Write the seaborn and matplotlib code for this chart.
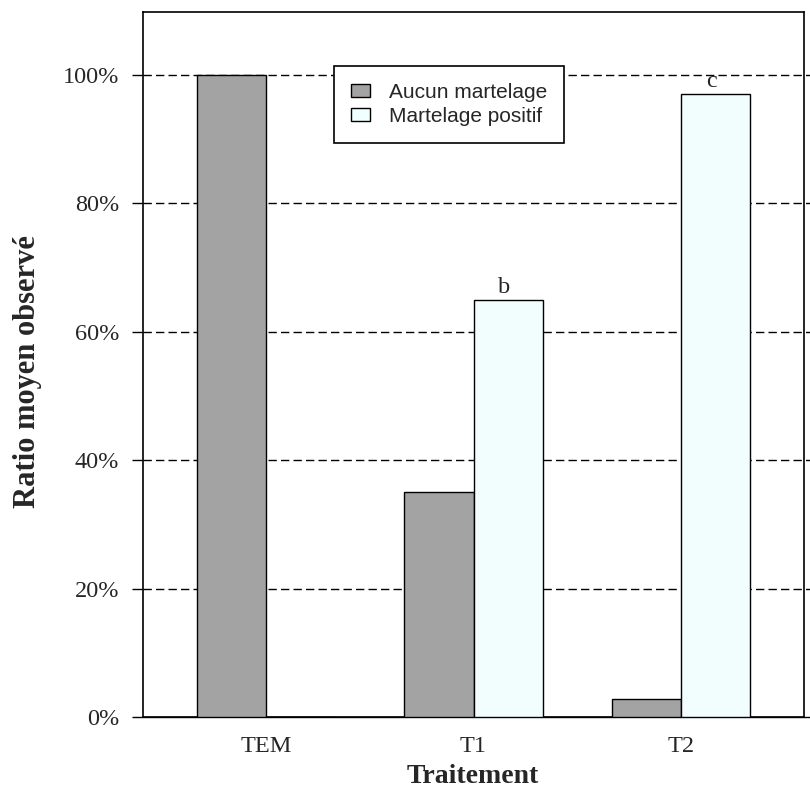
import matplotlib
matplotlib.use("Agg")
import matplotlib.pyplot as plt
from matplotlib.patches import Patch
import numpy as np
import pandas as pd
import seaborn as sns

sns.set_style("white")
plt.rcParams['font.family'] = ['Liberation Serif', 'DejaVu Serif']

# donnees
traitements = ["TEM", "T1", "T2"]
aucun = [1.00, 0.35, 0.028]
positif = [0.0, 0.65, 0.97]
series = ["Aucun martelage", "Martelage positif"]
couleurs = ["#a3a3a3", "#f0ffff"]
lettres = ["", "b", "c"]
yticks = [0, 0.2, 0.4, 0.6, 0.8, 1.0]

df = pd.DataFrame({
    "Traitement": traitements * 2,
    "Ratio": aucun + positif,
    "Serie": [series[0]] * 3 + [series[1]] * 3,
})

fig = plt.figure(figsize=(8.1, 7.92), dpi=100)
ax = fig.add_axes([0.1765, 0.0947, 0.8155, 0.8901])

sns.barplot(data=df, x="Traitement", y="Ratio", hue="Serie", order=traitements,
            hue_order=series, palette=couleurs, width=0.667, edgecolor="black",
            linewidth=1, errorbar=None, legend=False, ax=ax, zorder=3)

ax.set_xlim(-0.593, 2.59)
ax.set_ylim(0, 1.098)

# lignes horizontales (depassent a droite comme l'original)
for y in yticks:
    ls = "-" if y == 0 else (0, (6, 3))
    ax.axhline(y, xmin=0, xmax=1.03, color="black", lw=1, ls=ls,
               clip_on=False, zorder=1)

ax.set_yticks(yticks)
ax.set_yticklabels([f"{int(round(v * 100))}%" for v in yticks], fontsize=17.5)
ax.tick_params(axis="y", left=True, direction="out", length=8, width=1,
               color="black", pad=9)
ax.tick_params(axis="x", length=0, labelsize=17.5, pad=14)
for s in ax.spines.values():
    s.set_color("black")
    s.set_linewidth(1.2)

# lettres au-dessus des barres
for i, (v, l) in enumerate(zip(positif, lettres)):
    if l:
        ax.text(i + 0.1667 - 0.02, v + 0.011, l, ha="center", va="baseline",
                fontsize=17.5)

ax.set_xlabel("Traitement", fontsize=20, fontweight="bold", labelpad=5)
ax.set_ylabel("Ratio moyen observé", fontsize=22, fontweight="bold")
ax.yaxis.set_label_coords(-0.153, 0.49)

handles = [Patch(facecolor=c, edgecolor="black", lw=1, label=s)
           for c, s in zip(couleurs, series)]
leg = ax.legend(handles=handles, loc="upper left", bbox_to_anchor=(0.289, 0.923),
                borderaxespad=0, fancybox=False, framealpha=1, edgecolor="black",
                prop={"family": "Liberation Sans", "size": 15},
                handlelength=0.95, handleheight=0.6, handletextpad=0.9,
                borderpad=0.8, labelspacing=0.25)
leg.get_frame().set_linewidth(1.2)

fig.savefig("out.png", dpi=100)
